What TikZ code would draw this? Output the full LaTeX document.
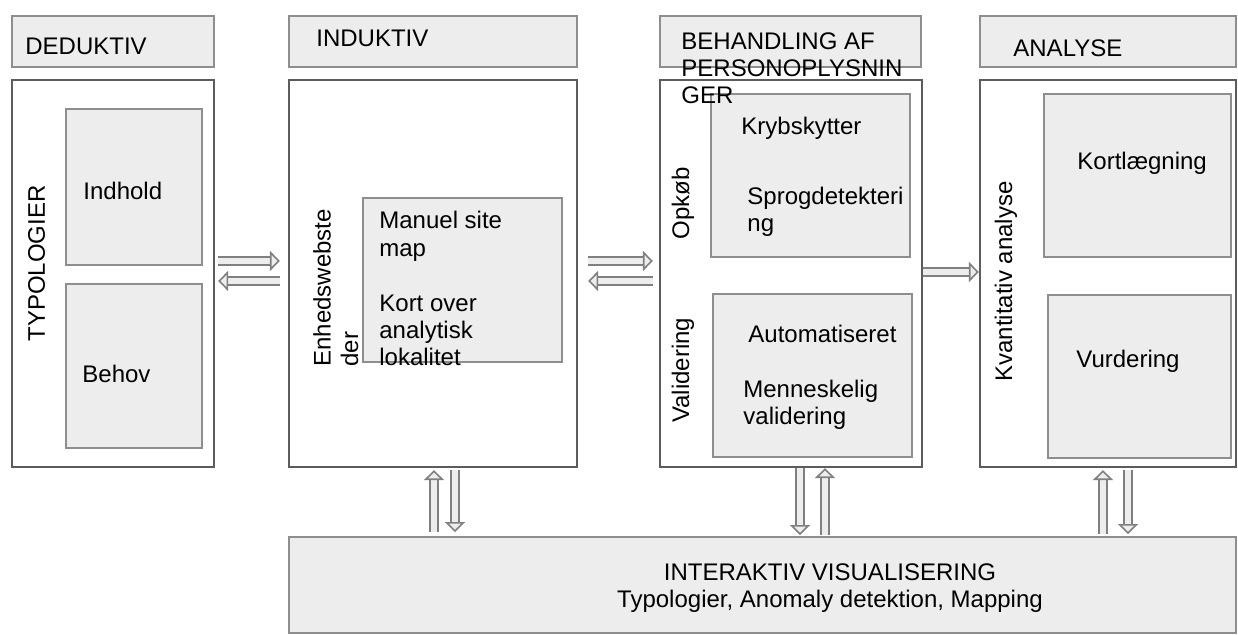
\documentclass[tikz,border=0pt]{standalone}
\usepackage{fontspec}
\setmainfont{Liberation Sans}
\usetikzlibrary{arrows.meta}
\usetikzlibrary{positioning}
\definecolor{boxfill}{HTML}{EDEDED}
\definecolor{boxline}{HTML}{8E8E8E}
\definecolor{frameline}{HTML}{5C5C5C}
\tikzset{hdr/.style = {rectangle, draw=boxline, fill=boxfill, line width=1pt, minimum height=25.5pt}}
\tikzset{frame/.style = {rectangle, draw=frameline, line width=1.1pt, minimum height=193.5pt}}
\tikzset{sub/.style = {rectangle, draw=boxline, fill=boxfill, line width=0.9pt}}
\tikzset{txt/.style = {anchor=base west, inner sep=0pt, align=left}}
\tikzset{vtxt/.style = {txt, rotate=90}}
\tikzset{blk/.style = {draw=boxline!90!black, line width=0.8pt, double=boxfill, double distance=3.2pt, -{Triangle[width=10pt, length=5pt, fill=boxfill]}}}

\begin{document}
\begin{tikzpicture}[x=0.5pt, y=-0.5pt, every node/.append style={font=\fontsize{12pt}{13.7pt}\selectfont}]
\useasboundingbox (0,0) rectangle (1238,635);
% headers
\node [hdr, minimum width=101pt] (HD) at (113,41.5) {};
\node [hdr, minimum width=144pt] (HI) at (433,41.5) {};
\node [hdr, minimum width=130.5pt] (HB) at (790.5,41.5) {};
\node [hdr, minimum width=128pt] (HA) at (1108,41.5) {};
% frames
\node [frame, minimum width=101pt] (D) at (113,273.5) {};
\node [frame, minimum width=144pt] (I) at (433,273.5) {};
\node [frame, minimum width=131pt] (B) at (791,273.5) {};
\node [frame, minimum width=128pt] (A) at (1108,273.5) {};
% inner boxes
\node [sub, minimum width=68pt, minimum height=78pt] (IN) at (134,187) {};
\node [sub, minimum width=68pt, minimum height=82pt] (BE) at (134,366) {};
\node [sub, minimum width=99.5pt, minimum height=82pt] (MS) at (462.5,280) {};
\node [sub, minimum width=99.5pt, minimum height=81.5pt] (KR) at (810.5,175.5) {};
\node [sub, minimum width=99.5pt, minimum height=81.5pt] (AU) at (812.5,375.5) {};
\node [sub, minimum width=93.5pt, minimum height=81.5pt] (KO) at (1137.5,175.5) {};
\node [sub, minimum width=91.5pt, minimum height=81.5pt] (VU) at (1139.5,376.5) {};
\node [sub, minimum width=473.5pt, minimum height=48pt] (V) at (762.5,585) {};
% texts (base = last line)
\node [txt] (tHD) at (25,55) {DEDUKTIV};
\node [txt] (tHI) at (316,47) {INDUKTIV};
\node [txt] (tHB) at (681,104) {BEHANDLING AF\\PERSONOPLYSNIN\\GER};
\node [txt] (tHA) at (1013,57) {ANALYSE};
\node [vtxt] (tTY) at (45,342) {TYPOLOGIER};
\node [txt] (tIN) at (83,200) {Indhold};
\node [txt] (tBE) at (82,383) {Behov};
\node [vtxt] (tEN) at (358,367) {Enhedswebste\\der};
\node [txt] (tMS) at (379,366) {Manuel site\\map\\[13.7pt]Kort over\\analytisk\\lokalitet};
\node [vtxt] (tOP) at (689,240) {Opkøb};
\node [vtxt] (tVA) at (689,423) {Validering};
\node [txt] (tKR) at (741,135) {Krybskytter};
\node [txt] (tSP) at (747,232) {Sprogdetekteri\\ng};
\node [txt] (tAU) at (748,343) {Automatiseret};
\node [txt] (tME) at (743,425) {Menneskelig\\validering};
\node [vtxt] (tKV) at (1012,382) {Kvantitativ analyse};
\node [txt] (tKO) at (1077,170) {Kortlægning};
\node [txt] (tVU) at (1076,368) {Vurdering};
\node [align=center, anchor=base, inner sep=0pt] (tV) at (830,608) {INTERAKTIV VISUALISERING\\Typologier, Anomaly detektion, Mapping};
% arrows
\draw [blk, shorten <=1.5pt, shorten >=4pt] ([yshift=6.25pt]D.east) -- ([yshift=6.25pt]I.west);
\draw [blk, shorten <=4pt, shorten >=1.5pt] ([yshift=-3.75pt]I.west) -- ([yshift=-3.75pt]D.east);
\draw [blk, shorten <=5pt, shorten >=3pt] ([yshift=6.25pt]I.east) -- ([yshift=6.25pt]B.west);
\draw [blk, shorten <=3pt, shorten >=5pt] ([yshift=-3.75pt]B.west) -- ([yshift=-3.75pt]I.east);
\draw [blk] ([yshift=0.75pt]B.east) -- ([yshift=0.75pt]A.west);
\draw [blk, shorten <=2pt, shorten >=1pt] ([xshift=0.5pt]I.south |- V.north) -- ([xshift=0.5pt]I.south);
\draw [blk, shorten <=1pt, shorten >=2pt] ([xshift=11pt]I.south) -- ([xshift=11pt]I.south |- V.north);
\draw [blk, shorten <=0pt, shorten >=0.5pt] ([xshift=4.5pt]B.south) -- ([xshift=4.5pt]B.south |- V.north);
\draw [blk, shorten <=0.5pt, shorten >=0pt] ([xshift=17pt]B.south |- V.north) -- ([xshift=17pt]B.south);
\draw [blk, shorten <=1pt, shorten >=1pt] ([xshift=-2.5pt]A.south |- V.north) -- ([xshift=-2.5pt]A.south);
\draw [blk, shorten <=1pt, shorten >=1pt] ([xshift=10pt]A.south) -- ([xshift=10pt]A.south |- V.north);
\end{tikzpicture}
\end{document}
